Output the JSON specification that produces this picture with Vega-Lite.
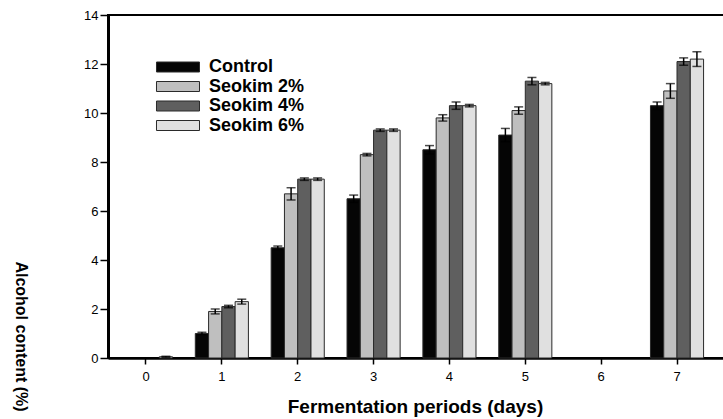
{
  "$schema": "https://vega.github.io/schema/vega-lite/v6.json",
  "width": 620,
  "height": 343,
  "autosize": {"type": "none"},
  "padding": {"left": 108, "top": 15, "right": 0, "bottom": 61},
  "background": "white",
  "config": {
    "font": "Liberation Sans",
    "view": {"stroke": "black", "strokeWidth": 2}
  },
  "data": {
    "values": [
      {"day": "0", "group": "Seokim 6%", "value": 0.05, "lo": 0.03, "hi": 0.07},
      {"day": "1", "group": "Control", "value": 1.0, "lo": 0.95, "hi": 1.05},
      {"day": "1", "group": "Seokim 2%", "value": 1.9, "lo": 1.8, "hi": 2.0},
      {"day": "1", "group": "Seokim 4%", "value": 2.1, "lo": 2.05, "hi": 2.15},
      {"day": "1", "group": "Seokim 6%", "value": 2.3, "lo": 2.2, "hi": 2.4},
      {"day": "2", "group": "Control", "value": 4.5, "lo": 4.43, "hi": 4.57},
      {"day": "2", "group": "Seokim 2%", "value": 6.7, "lo": 6.45, "hi": 6.95},
      {"day": "2", "group": "Seokim 4%", "value": 7.3, "lo": 7.25, "hi": 7.35},
      {"day": "2", "group": "Seokim 6%", "value": 7.3, "lo": 7.25, "hi": 7.35},
      {"day": "3", "group": "Control", "value": 6.5, "lo": 6.35, "hi": 6.65},
      {"day": "3", "group": "Seokim 2%", "value": 8.3, "lo": 8.25, "hi": 8.35},
      {"day": "3", "group": "Seokim 4%", "value": 9.3, "lo": 9.25, "hi": 9.35},
      {"day": "3", "group": "Seokim 6%", "value": 9.3, "lo": 9.25, "hi": 9.35},
      {"day": "4", "group": "Control", "value": 8.5, "lo": 8.33, "hi": 8.67},
      {"day": "4", "group": "Seokim 2%", "value": 9.8, "lo": 9.67, "hi": 9.93},
      {"day": "4", "group": "Seokim 4%", "value": 10.3, "lo": 10.15, "hi": 10.45},
      {"day": "4", "group": "Seokim 6%", "value": 10.3, "lo": 10.25, "hi": 10.35},
      {"day": "5", "group": "Control", "value": 9.1, "lo": 8.83, "hi": 9.37},
      {"day": "5", "group": "Seokim 2%", "value": 10.1, "lo": 9.95, "hi": 10.25},
      {"day": "5", "group": "Seokim 4%", "value": 11.3, "lo": 11.15, "hi": 11.45},
      {"day": "5", "group": "Seokim 6%", "value": 11.2, "lo": 11.15, "hi": 11.25},
      {"day": "7", "group": "Control", "value": 10.3, "lo": 10.15, "hi": 10.45},
      {"day": "7", "group": "Seokim 2%", "value": 10.9, "lo": 10.6, "hi": 11.2},
      {"day": "7", "group": "Seokim 4%", "value": 12.1, "lo": 11.95, "hi": 12.25},
      {"day": "7", "group": "Seokim 6%", "value": 12.2, "lo": 11.9, "hi": 12.5}
    ]
  },
  "encoding": {
    "x": {
      "field": "day",
      "type": "nominal",
      "scale": {
        "domain": ["0", "1", "2", "3", "4", "5", "6", "7"],
        "paddingInner": 0.3,
        "paddingOuter": 0.2365,
        "align": 0.319
      },
      "axis": {
        "title": "Fermentation periods (days)",
        "titleFontSize": 19,
        "titleFontWeight": "bold",
        "titleColor": "black",
        "titlePadding": 14,
        "labelAngle": 0,
        "labelFontSize": 13,
        "labelColor": "black",
        "labelPadding": 6,
        "tickSize": 6,
        "tickWidth": 1.5,
        "tickColor": "black",
        "domainColor": "black",
        "domainWidth": 2.5,
        "titleX": 307
      }
    },
    "xOffset": {
      "field": "group",
      "type": "nominal",
      "scale": {
        "domain": ["Control", "Seokim 2%", "Seokim 4%", "Seokim 6%"],
        "paddingInner": 0,
        "paddingOuter": 0
      }
    }
  },
  "layer": [
    {
      "mark": {"type": "bar", "stroke": "#2a2a2a", "strokeWidth": 1},
      "encoding": {
        "y": {
          "field": "value",
          "type": "quantitative",
          "scale": {"domain": [0, 14], "nice": false},
          "axis": {
            "title": "Alcohol content (%)",
            "titleFontSize": 16,
            "titleFontWeight": "bold",
            "titleColor": "black",
            "titleAngle": 90,
            "titleX": -88,
            "titleY": 321,
            "titleBaseline": "middle",
            "titleAlign": "center",
            "values": [0, 2, 4, 6, 8, 10, 12, 14],
            "grid": false,
            "labelFontSize": 13,
            "labelColor": "black",
            "labelPadding": 2,
            "tickSize": 8,
            "tickWidth": 1.5,
            "tickColor": "black",
            "domainColor": "black",
            "domainWidth": 3
          }
        },
        "color": {
          "field": "group",
          "type": "nominal",
          "scale": {
            "domain": ["Control", "Seokim 2%", "Seokim 4%", "Seokim 6%"],
            "range": ["#050505", "#bfbfbf", "#5f5f5f", "#e0e0e0"]
          },
          "legend": {
            "title": null,
            "orient": "none",
            "legendX": 61,
            "legendY": 43,
            "padding": 0,
            "symbolType": "M-4,-0.93H4V0.93H-4Z",
            "symbolSize": 115.6,
            "symbolStrokeColor": "#2a2a2a",
            "symbolStrokeWidth": 1,
            "symbolOpacity": 1,
            "labelFontSize": 18,
            "labelFontWeight": "bold",
            "labelColor": "black",
            "labelOffset": 22,
            "rowPadding": 1.5
          }
        }
      }
    },
    {
      "mark": {"type": "rule", "color": "black", "strokeWidth": 1.5},
      "encoding": {
        "y": {"field": "lo", "type": "quantitative"},
        "y2": {"field": "hi"}
      }
    },
    {
      "mark": {"type": "tick", "color": "black", "size": 9, "thickness": 1.5, "orient": "horizontal"},
      "encoding": {"y": {"field": "lo", "type": "quantitative"}}
    },
    {
      "mark": {"type": "tick", "color": "black", "size": 9, "thickness": 1.5, "orient": "horizontal"},
      "encoding": {"y": {"field": "hi", "type": "quantitative"}}
    }
  ]
}
